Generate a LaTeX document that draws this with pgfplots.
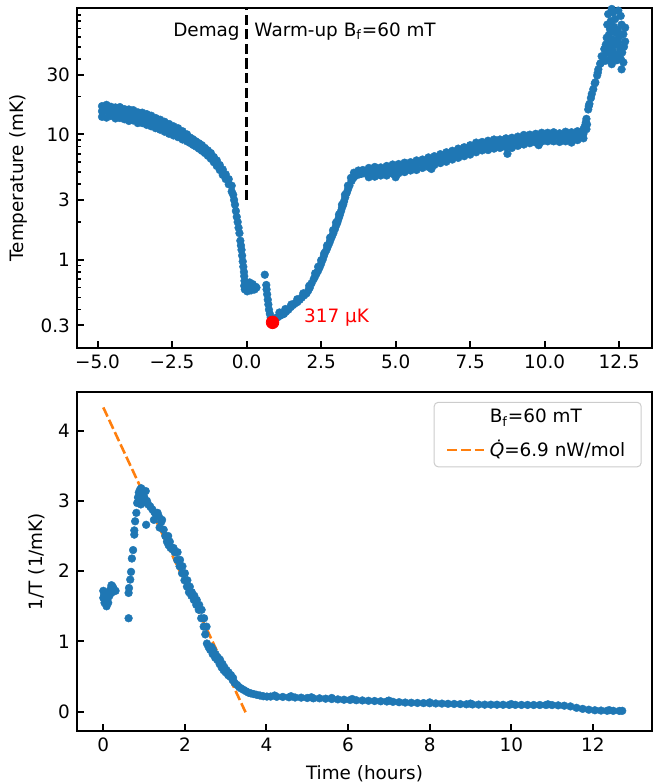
\documentclass[border=0pt]{standalone}
\usepackage{fontspec}
\setmainfont{DejaVu Sans}
\usepackage{pgfplots}
\pgfplotsset{compat=1.18}
\definecolor{c0}{HTML}{1F77B4}
\definecolor{c1}{HTML}{FF7F0E}
\definecolor{legframe}{HTML}{CCCCCC}
\pgfplotsset{
  panel/.style={
    scale only axis,
    width=287.5pt,
    anchor=south west,
    axis line style={line width=1.2pt},
    tick align=inside,
    xtick pos=left, ytick pos=left,
    major tick length=3.3pt,
    minor tick length=1.9pt,
    tick style={black, line width=1pt},
    minor tick style={line width=0.8pt},
    /pgf/number format/assume math mode=true,
    tick label style={font=\fontsize{9.2}{11}\selectfont},
    label style={font=\fontsize{9.2}{11}\selectfont},
  },
  dots/.style={only marks, mark=*, mark size=1.95pt, forget plot,
    mark options={draw=c0, fill=c0, line width=0.2pt}},
}

\begin{document}
\begin{tikzpicture}
\path[use as bounding box] (0,0) rectangle (328pt,391pt);

% ---- top: temperature, log scale
\begin{axis}[panel,
  at={(38.5pt,217pt)}, height=170pt,
  ymode=log,
  xmin=-5.69, xmax=13.6, ymin=0.198, ymax=101.8,
  xtick={-5,-2.5,0,2.5,5,7.5,10,12.5},
  xticklabels={−5.0,−2.5,0.0,2.5,5.0,7.5,10.0,12.5},
  ytick={0.3,1,3,10,30}, yticklabels={0.3,1,3,10,30},
  minor ytick={0.2,0.4,0.5,0.6,0.7,0.8,0.9,2,4,5,6,7,8,9,20,40,50,60,70,80,90},
  ylabel={Temperature (mK)},
]
\addplot[dots] coordinates {
(-4.85,15.3) (-4.7,15.4) (-4.55,15.3) (-4.4,15.0) (-4.25,14.8) (-4.1,14.6) (-3.95,14.4) (-3.8,14.1) (-3.65,13.8) (-3.5,13.5)
(-3.35,13.3) (-3.2,12.8) (-3.05,12.4) (-2.9,12.0) (-2.75,11.6) (-2.6,11.1) (-2.45,10.7) (-2.3,10.4) (-2.15,9.9) (-2.0,9.4)
(-4.85,16.8) (-4.7,17.2) (-4.55,16.6) (-4.4,16.4) (-4.25,16.5) (-4.1,15.9) (-3.95,15.8) (-3.8,15.6) (-3.65,15.0) (-3.5,14.9)
(-3.35,14.5) (-3.2,14.1) (-3.05,13.5) (-2.9,13.1) (-2.75,12.6) (-2.6,12.1) (-2.45,11.6) (-2.3,11.2) (-2.15,10.6) (-2.0,10.0)
(-4.85,13.8) (-4.7,13.6) (-4.55,14.0) (-4.4,13.4) (-4.25,13.5) (-4.1,13.2) (-3.95,12.8) (-3.8,12.9) (-3.65,12.3) (-3.5,12.3)
(-3.35,11.9) (-3.2,11.6) (-3.05,11.2) (-2.9,10.9) (-2.75,10.5) (-2.6,10.1) (-2.45,9.8) (-2.3,9.5) (-2.15,9.1) (-2.0,8.8)
(-1.9,9.45) (-1.8,9.15) (-1.7,8.8) (-1.6,8.5) (-1.5,8.2) (-1.4,7.8) (-1.3,7.45) (-1.2,7.1) (-1.1,6.6) (-1.0,6.2)
(-0.9,5.7) (-0.8,5.25) (-0.7,4.8) (-0.6,4.4) (-0.5,3.9)
(-1.9,8.55) (-1.8,8.25) (-1.7,8.0) (-1.6,7.7) (-1.5,7.4) (-1.4,7.1) (-1.3,6.75) (-1.2,6.4) (-1.1,6.0) (-1.0,5.6)
(-0.9,5.2) (-0.8,4.75) (-0.7,4.4) (-0.6,4.0) (-0.5,3.5)
(-0.45,3.3) (-0.42,3.0) (-0.39,2.75) (-0.36,2.45) (-0.33,2.2) (-0.30,2.0) (-0.27,1.8) (-0.24,1.63) (-0.21,1.42)
(-0.19,1.3) (-0.17,1.2) (-0.15,1.08) (-0.13,0.97) (-0.11,0.88) (-0.09,0.8) (-0.08,0.74) (-0.07,0.68)
(-0.08,0.62) (-0.06,0.58) (-0.03,0.66) (0.0,0.6) (0.02,0.56) (0.05,0.63) (0.08,0.59) (0.1,0.66) (0.12,0.6)
(0.15,0.57) (0.18,0.62) (0.2,0.64) (0.23,0.6) (0.27,0.58) (0.3,0.61) (0.33,0.6)
(0.61,0.76)
(0.66,0.63) (0.67,0.58) (0.69,0.53) (0.71,0.48) (0.73,0.44) (0.75,0.40) (0.78,0.37) (0.81,0.345) (0.84,0.33)
(0.9,0.33) (0.95,0.335) (1.0,0.345) (1.06,0.35) (1.12,0.36) (1.19,0.365) (1.25,0.37) (1.32,0.385) (1.4,0.40)
(1.48,0.42) (1.56,0.436) (1.63,0.45) (1.7,0.46) (1.78,0.48) (1.85,0.5) (1.93,0.52) (2.01,0.54) (2.07,0.57)
(2.12,0.6) (2.18,0.65) (2.25,0.7) (2.3,0.74) (2.35,0.78) (2.4,0.82) (2.45,0.87) (2.5,0.93) (2.55,1.0) (2.59,1.07)
(2.63,1.14) (2.68,1.2) (2.72,1.27) (2.77,1.35) (2.81,1.43) (2.86,1.53) (2.91,1.63) (2.96,1.75) (3.0,1.87)
(3.04,1.97) (3.07,2.08) (3.1,2.18) (3.13,2.29) (3.17,2.45) (3.2,2.6) (3.24,2.75) (3.27,2.93) (3.31,3.15)
(3.36,3.42) (3.4,3.65) (3.45,3.9) (3.52,4.25) (3.58,4.5) (3.64,4.65) (3.7,4.75) (3.78,4.8) (3.85,4.85) (3.93,4.9) (4.03,4.94)
(1.1,0.38) (1.3,0.405) (1.5,0.44) (1.7,0.485) (1.9,0.54) (2.1,0.62) (2.3,0.78) (2.4,0.88) (2.5,0.99) (2.6,1.12)
(2.7,1.3) (2.8,1.5) (2.9,1.72) (3.0,1.98) (3.1,2.3) (3.2,2.75) (3.3,3.3) (3.4,3.9) (3.5,4.5) (3.6,4.95) (3.75,5.15) (3.9,5.2)
(4.1,4.95) (4.3,5.0) (4.5,5.05) (4.7,5.15) (4.9,5.25) (5.1,5.35) (5.3,5.45) (5.5,5.55) (5.7,5.7) (5.9,5.85)
(6.1,6.0) (6.3,6.2) (6.5,6.4) (6.7,6.6) (6.9,6.85) (7.1,7.05) (7.3,7.3) (7.5,7.55) (7.7,7.85) (7.9,8.1)
(8.1,8.2) (8.3,8.35) (8.5,8.45) (8.7,8.55) (8.9,8.7) (9.1,8.85) (9.3,9.05) (9.5,9.2) (9.7,9.35) (9.9,9.5)
(10.1,9.55) (10.3,9.55) (10.5,9.5) (10.7,9.55) (10.9,9.65) (11.1,9.75) (11.3,10.1)
(4.1,5.4) (4.3,5.5) (4.5,5.45) (4.7,5.6) (4.9,5.75) (5.1,5.8) (5.3,5.95) (5.5,6.0) (5.7,6.2) (5.9,6.3)
(6.1,6.55) (6.3,6.7) (6.5,6.95) (6.7,7.2) (6.9,7.4) (7.1,7.7) (7.3,7.9) (7.5,8.2) (7.7,8.6) (7.9,8.7)
(8.1,8.9) (8.3,9.1) (8.5,9.1) (8.7,9.3) (8.9,9.4) (9.1,9.6) (9.3,9.9) (9.5,9.95) (9.7,10.1) (9.9,10.3)
(10.1,10.3) (10.3,10.4) (10.5,10.2) (10.7,10.5) (10.9,10.4) (11.1,10.6) (11.3,11.0)
(4.1,4.55) (4.3,4.6) (4.5,4.7) (4.7,4.7) (4.9,4.85) (5.1,4.9) (5.3,5.0) (5.5,5.15) (5.7,5.2) (5.9,5.4)
(6.1,5.5) (6.3,5.7) (6.5,5.9) (6.7,6.05) (6.9,6.3) (7.1,6.5) (7.3,6.7) (7.5,6.9) (7.7,7.2) (7.9,7.45)
(8.1,7.5) (8.3,7.7) (8.5,7.8) (8.7,7.9) (8.9,7.8) (9.1,8.1) (9.3,8.3) (9.5,8.5) (9.7,8.6) (9.9,8.75)
(10.1,8.8) (10.3,8.8) (10.5,8.7) (10.7,8.8) (10.9,8.9) (11.1,9.0) (11.3,9.3)
(6.2,5.3) (8.75,7.0) (9.8,8.2) (10.9,8.6) (5.0,4.55)
(11.35,11.7) (11.4,13.3) (11.46,15.8) (11.5,17.5) (11.55,19.5) (11.63,22.9) (11.7,26) (11.76,29.5) (11.8,33) (11.88,37) (11.97,42)
(11.38,12.5) (11.48,16.8) (11.58,21) (11.68,25.5) (11.78,31) (11.86,36.5) (11.4,11.0) (11.42,12.0)
(12.13,91) (12.47,97) (12.58,75) (12.7,71) (12.08,59) (12.36,65) (12.19,51) (12.7,55) (11.91,42) (12.42,43.6)
(12.25,36.3) (12.58,33) (12.64,37.5) (12.03,38.6) (12.47,54) (12.53,48) (12.36,83) (12.19,69) (12.3,57) (12.08,45)
(12.42,39) (12.64,63) (12.5,106) (12.3,94)
(12.1,75) (12.15,62) (12.22,80) (12.27,47) (12.33,72) (12.38,52) (12.45,68) (12.5,60) (12.55,88) (12.6,45)
(12.66,50) (12.2,40) (12.0,48) (12.12,53) (12.25,100) (12.4,110) (12.05,52) (12.3,42) (12.55,40) (12.16,45)
};
\addplot[only marks, mark=*, mark size=3.15pt, red, forget plot] coordinates {(0.87,0.317)};
\addplot[black, line width=1.3pt, dash pattern=on 5.1pt off 2.2pt, forget plot] coordinates {(0,3) (0,110)};
\node[anchor=base east, inner sep=0pt, font=\fontsize{9.2}{11}\selectfont] at (axis cs:-0.22,60.5) {Demag};
\node[anchor=base west, inner sep=0pt, font=\fontsize{9.2}{11}\selectfont] at (axis cs:0.25,60.5) {Warm-up B\textsubscript{f}=60 mT};
\node[anchor=base west, inner sep=0pt, red, font=\fontsize{9.2}{11}\selectfont] at (axis cs:1.92,0.315) {317 µK};
\end{axis}

% ---- bottom: inverse temperature
\begin{axis}[panel,
  at={(38.5pt,25.5pt)}, height=169.5pt,
  xmin=-0.645, xmax=13.45, ymin=-0.275, ymax=4.55,
  xtick={0,2,4,6,8,10,12}, ytick={0,1,2,3,4},
  xlabel={Time (hours)}, ylabel={1/T (1/mK)},
  legend style={at={(0.982,0.971)}, anchor=north east, draw=legframe, line width=0.5pt,
    rounded corners=2pt, fill=white, font=\fontsize{9.2}{11}\selectfont,
    inner xsep=6pt, inner ysep=1.5pt, row sep=3pt},
  legend cell align=left,
  legend image code/.code={\draw[#1] (0pt,0pt) -- (18.5pt,0pt);},
]
\addplot[dots] coordinates {
(0.0,1.72) (0.0,1.62) (0.03,1.55) (0.05,1.68) (0.08,1.5) (0.1,1.6) (0.12,1.7) (0.15,1.65) (0.18,1.75)
(0.2,1.8) (0.22,1.7) (0.25,1.75) (0.3,1.72) (0.02,1.66) (0.06,1.58) (0.12,1.55) (0.17,1.68) (0.23,1.78)
(0.62,1.33) (0.62,1.69) (0.63,1.76) (0.66,1.88) (0.68,1.99) (0.70,2.18) (0.73,2.30) (0.76,2.52) (0.76,2.58)
(0.78,2.71) (0.81,2.83) (0.83,2.97) (0.85,3.05) (0.87,3.12) (0.9,3.16) (0.93,3.18) (0.88,3.0) (0.95,3.05)
(0.97,3.12) (1.0,3.06) (1.02,2.98) (1.04,3.14) (0.92,2.95) (1.05,2.66) (1.07,3.0)
(1.1,2.95) (1.15,2.92) (1.2,2.88) (1.25,2.84) (1.3,2.8) (1.36,2.78) (1.42,2.7) (1.48,2.59) (1.52,2.5) (1.56,2.42)
(1.6,2.37) (1.65,2.33) (1.7,2.31) (1.75,2.27) (1.81,2.16) (1.87,2.07) (1.93,1.97) (1.99,1.87) (2.05,1.78) (2.1,1.7)
(2.16,1.65) (2.22,1.59) (2.28,1.52) (2.34,1.45) (2.4,1.33) (2.46,1.21) (2.5,1.1) (2.54,0.97) (2.58,0.92) (2.62,0.88)
(2.68,0.82) (2.74,0.77) (2.79,0.74) (2.85,0.68) (2.9,0.63) (2.95,0.59) (3.0,0.56) (3.06,0.52) (3.11,0.5) (3.17,0.45)
(3.22,0.41) (3.28,0.38) (3.33,0.35) (3.38,0.33) (3.44,0.31) (3.5,0.29) (3.56,0.27) (3.62,0.26) (3.69,0.25) (3.76,0.24)
(3.84,0.23) (3.92,0.22) (4.01,0.215)
(1.59,2.5) (1.63,2.42) (1.72,2.33) (1.82,2.27) (1.88,2.16) (1.94,2.07) (2.0,1.97) (2.06,1.87) (2.12,1.78) (2.17,1.7)
(2.23,1.65) (2.29,1.59) (2.35,1.52) (2.41,1.45) (2.47,1.33) (2.53,1.21) (2.65,0.92) (2.69,0.88) (2.75,0.82) (2.81,0.77)
(2.86,0.74) (2.92,0.68) (2.97,0.63) (3.02,0.59) (3.07,0.56) (3.13,0.52) (3.18,0.48)
(1.24,2.73) (1.33,2.83) (1.44,2.73) (1.38,2.62)
(4.1,0.215) (4.25,0.212) (4.4,0.21) (4.55,0.205) (4.7,0.202) (4.85,0.2) (5.0,0.195) (5.15,0.19) (5.3,0.19) (5.45,0.185)
(5.6,0.18) (5.75,0.175) (5.9,0.17) (6.05,0.167) (6.2,0.163) (6.35,0.16) (6.5,0.155) (6.65,0.152) (6.8,0.148) (6.95,0.145)
(7.1,0.14) (7.25,0.135) (7.4,0.13) (7.55,0.127) (7.7,0.124) (7.85,0.122) (8.0,0.12) (8.15,0.117) (8.3,0.115) (8.45,0.112)
(8.6,0.11) (8.75,0.108) (8.9,0.105) (9.05,0.103) (9.2,0.101) (9.35,0.1) (9.5,0.1) (9.65,0.099) (9.8,0.098) (9.95,0.097)
(10.1,0.097) (10.25,0.096) (10.4,0.096) (10.55,0.095) (10.7,0.095) (10.85,0.095) (11.0,0.094) (11.15,0.09) (11.3,0.085)
(11.45,0.075) (11.6,0.055) (11.75,0.04) (11.9,0.028) (12.05,0.02) (12.2,0.016) (12.35,0.013) (12.5,0.012) (12.65,0.011) (12.72,0.012)
(4.2,0.23) (4.6,0.22) (5.1,0.205) (5.6,0.195) (6.1,0.18) (7.0,0.158) (8.0,0.132) (9.0,0.115) (10.0,0.108) (10.9,0.105) (12.4,0.022)
};
\addlegendimage{empty legend}
\addplot[c1, line width=1.3pt, dash pattern=on 5pt off 1.8pt] coordinates {(0,4.33) (3.52,-0.05)};
\legend{B\textsubscript{f}=60 mT, \textit{\.Q}=6.9 nW/mol}
\end{axis}
\end{tikzpicture}
\end{document}
